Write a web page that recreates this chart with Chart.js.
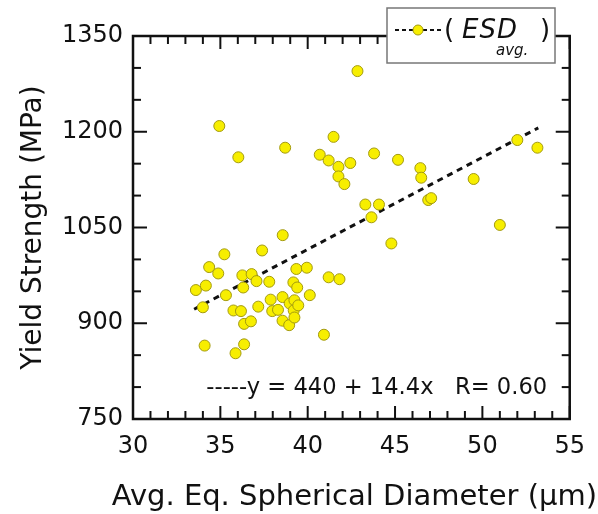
<!DOCTYPE html>
<html>
<head>
<meta charset="utf-8">
<script src="https://cdn.jsdelivr.net/npm/chart.js@4/dist/chart.umd.min.js"></script>
<style>
  html, body { margin: 0; padding: 0; background: #fff; }
</style>
</head>
<body>
<canvas id="myChart" width="598" height="514"></canvas>
<script>
// values
let diameters = [34.94, 36.03, 38.71, 40.69, 41.2, 41.48, 41.76, 41.76, 42.1, 42.44,
  42.85, 43.8, 45.17, 46.45, 46.5, 49.5, 52.0, 53.15, 46.9, 47.07,
  43.3, 44.08, 43.65, 44.79, 51.0, 41.2, 41.82, 40.93, 33.6, 34.17,
  34.0, 34.36, 34.1, 34.88, 35.23, 35.32, 35.75, 35.87, 36.18, 36.26,
  36.31, 36.36, 36.36, 36.79, 36.75, 37.07, 37.17, 37.39, 37.8, 37.88,
  37.97, 38.3, 38.57, 38.56, 38.56, 38.94, 38.97, 39.18, 39.24, 39.2,
  39.24, 39.35, 39.4, 39.46, 39.95, 40.12];
let strengths = [1209, 1160, 1175, 1164, 1155, 1192, 1145, 1130, 1118, 1151,
  1295, 1166, 1156, 1143, 1128, 1126, 1187, 1175, 1093, 1096,
  1086, 1086, 1066, 1025, 1054, 972, 969, 882, 952, 959,
  925, 988, 865, 978, 1008, 944, 920, 853, 919, 975,
  956, 867, 899, 977, 903, 966, 926, 1014, 965, 937,
  919, 921, 1038, 941, 904, 897, 931, 964, 936, 920,
  909, 985, 956, 928, 987, 944];

// dashed fit line, ends
let fitX = [33.5, 53.2];
let fitY = [922, 1206];
let fitText = "-----y = 440 + 14.4x   R= 0.60";

let xTicks = [30, 35, 40, 45, 50, 55];
let yTicks = [750, 900, 1050, 1200, 1350];
let xTitle = "Avg. Eq. Spherical Diameter (μm)";
let yTitle = "Yield Strength (MPa)";

const FONT = "DejaVu Sans";
const INK = "#111";
const YELLOW = "#f7ee00";
const YELLOW_EDGE = "#a39a10";

function line(ctx, x1, y1, x2, y2) {
  ctx.beginPath();
  ctx.moveTo(x1, y1);
  ctx.lineTo(x2, y2);
  ctx.stroke();
}

// box round the plot, with ticks pointing inwards on every side
const framePlugin = {
  id: "frame",
  afterDatasetsDraw(c) {
    const { ctx, chartArea: a, scales } = c;
    const x = scales.x, y = scales.y;
    ctx.save();
    ctx.strokeStyle = INK;
    ctx.lineWidth = 2;
    for (let v = 30; v <= 55; v++) {
      let px = x.getPixelForValue(v);
      let len = v % 5 === 0 ? 13 : 8;
      line(ctx, px, a.bottom, px, a.bottom - len);
      line(ctx, px, a.top, px, a.top + len);
    }
    for (let v = 750; v <= 1350; v += 50) {
      let py = y.getPixelForValue(v);
      let len = v % 150 === 0 ? 14 : 8;
      line(ctx, a.left, py, a.left + len, py);
      line(ctx, a.right, py, a.right - len, py);
    }
    ctx.lineWidth = 2.5;
    ctx.strokeRect(a.left, a.top, a.right - a.left, a.bottom - a.top);

    ctx.fillStyle = INK;
    ctx.textBaseline = "middle";

    // fit equation
    ctx.font = "22.6px '" + FONT + "'";
    ctx.textAlign = "left";
    ctx.fillText(fitText, x.getPixelForValue(34.2), y.getPixelForValue(799));

    // x title is wider than the plot, so it is drawn here (the scale title would squeeze it)
    ctx.font = "29px '" + FONT + "'";
    ctx.textAlign = "center";
    ctx.fillText(xTitle, (a.left + a.right) / 2 + 3, 497);
    ctx.restore();
  }
};

// legend box in the top right corner
const legendPlugin = {
  id: "esdLegend",
  afterDraw(c) {
    const ctx = c.ctx;
    ctx.save();
    ctx.fillStyle = "#fff";
    ctx.fillRect(387, 8, 168, 55);
    ctx.strokeStyle = "#777";
    ctx.lineWidth = 1.5;
    ctx.strokeRect(387, 8, 168, 55);

    ctx.strokeStyle = INK;
    ctx.lineWidth = 2;
    ctx.setLineDash([4, 3]);
    line(ctx, 395, 30, 442, 30);
    ctx.setLineDash([]);
    ctx.beginPath();
    ctx.arc(418, 30, 5, 0, Math.PI * 2);
    ctx.fillStyle = YELLOW;
    ctx.fill();
    ctx.strokeStyle = YELLOW_EDGE;
    ctx.lineWidth = 1;
    ctx.stroke();

    ctx.fillStyle = INK;
    ctx.textBaseline = "alphabetic";
    ctx.textAlign = "left";
    ctx.font = "26px '" + FONT + "'";
    ctx.fillText("(", 444, 38);
    ctx.fillText(")", 540, 38);
    ctx.font = "italic 26px '" + FONT + "'";
    ctx.letterSpacing = "1px";
    ctx.fillText("ESD", 462, 38);
    ctx.letterSpacing = "0px";
    ctx.font = "italic 15px '" + FONT + "'";
    ctx.fillText("avg.", 496, 55);
    ctx.restore();
  }
};

let chart = new Chart(document.getElementById("myChart"), {
  type: "scatter",
  data: {
    datasets: [
      {
        label: "ESD avg.",
        data: diameters.map((d, i) => ({ x: d, y: strengths[i] })),
        backgroundColor: YELLOW,
        borderColor: YELLOW_EDGE,
        borderWidth: 1,
        pointRadius: 5.5
      },
      {
        label: "fit",
        type: "line",
        data: fitX.map((d, i) => ({ x: d, y: fitY[i] })),
        borderColor: INK,
        borderWidth: 3,
        borderDash: [6, 5],
        pointRadius: 0,
        fill: false
      }
    ]
  },
  options: {
    responsive: false,
    animation: false,
    devicePixelRatio: 1,
    layout: { padding: { top: 36, right: 23, left: 0, bottom: 0 } },
    plugins: { legend: { display: false }, tooltip: { enabled: false } },
    scales: {
      x: {
        type: "linear",
        min: 30,
        max: 55,
        afterBuildTicks: s => { s.ticks = xTicks.map(v => ({ value: v })); },
        afterFit: s => { s.height = 95; },
        grid: { display: false, drawTicks: false },
        border: { display: false },
        ticks: { font: { family: FONT, size: 24 }, color: INK, padding: 13, maxRotation: 0, autoSkip: false,
          callback: v => String(v) },
        title: { display: false }
      },
      y: {
        min: 750,
        max: 1350,
        afterBuildTicks: s => { s.ticks = yTicks.map(v => ({ value: v })); },
        afterFit: s => { s.width = 133; },
        grid: { display: false, drawTicks: false },
        border: { display: false },
        ticks: { font: { family: FONT, size: 24 }, color: INK, padding: 10, autoSkip: false,
          callback: v => String(v) },
        title: {
          display: true,
          text: yTitle,
          font: { family: FONT, size: 28 },
          color: INK,
          padding: { top: 17, bottom: 0 }
        }
      }
    }
  },
  plugins: [framePlugin, legendPlugin]
});
</script>
</body>
</html>
